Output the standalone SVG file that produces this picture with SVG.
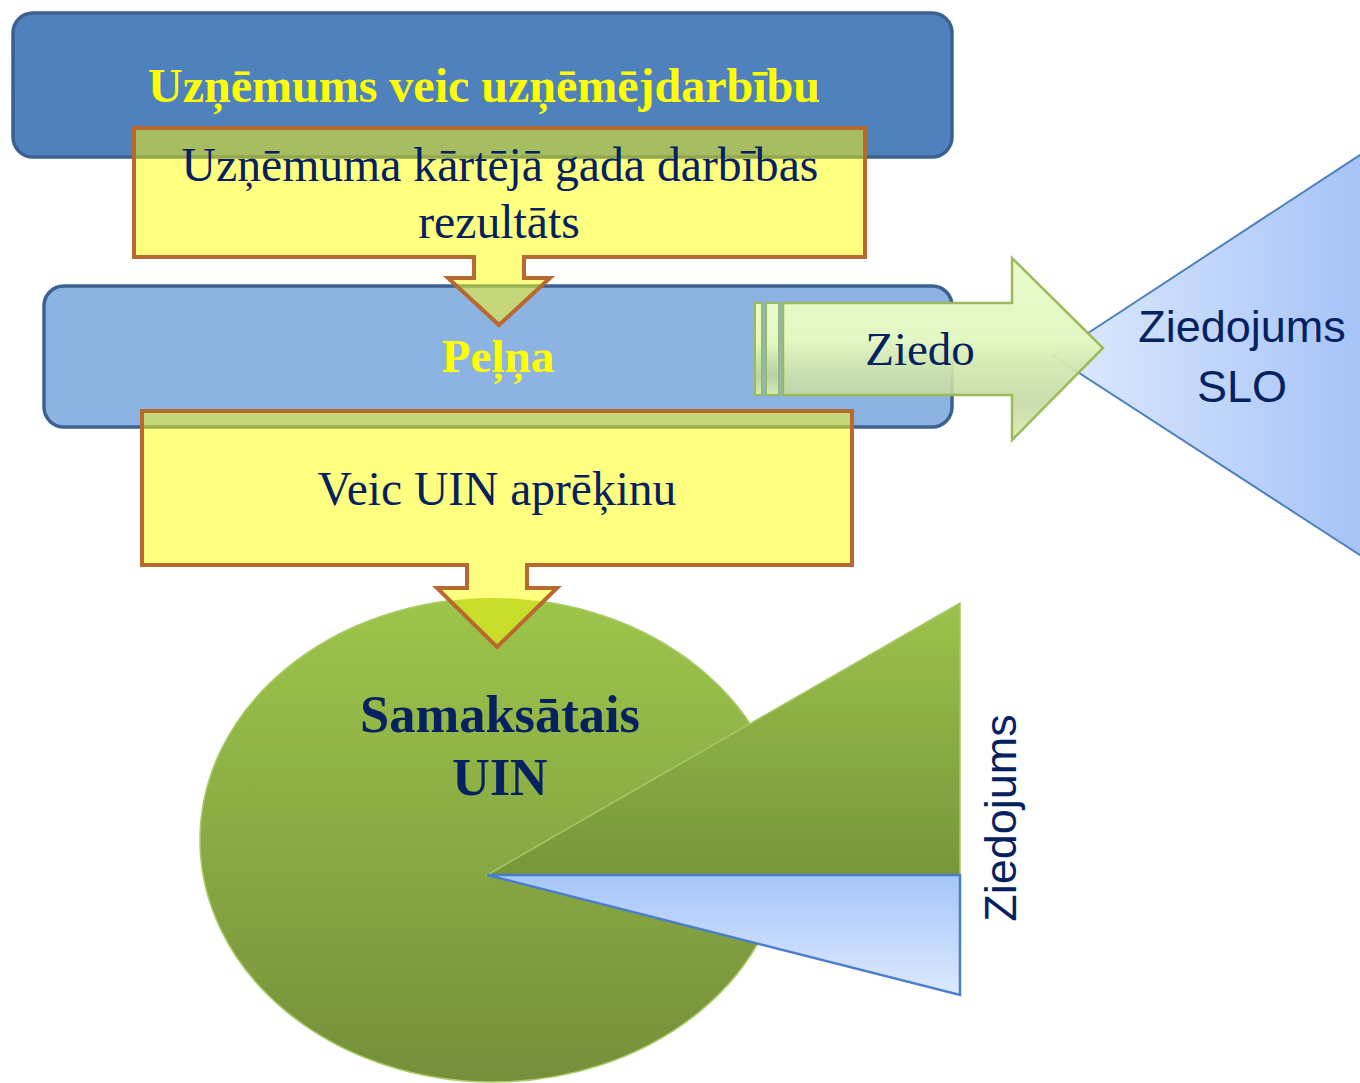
<svg xmlns="http://www.w3.org/2000/svg" width="1360" height="1083" viewBox="0 0 1360 1083">
<style>
.serif{font-family:"Liberation Serif","Times New Roman",serif;text-anchor:middle}
.sans{font-family:"Liberation Sans",Arial,sans-serif;text-anchor:middle}
.navy{fill:#06215F}
.yel{fill:#FFFF00;font-weight:bold}
.callout{fill:#FFFF80}
.cstroke{fill:none;stroke:#B8692F;stroke-width:4;stroke-linejoin:miter}
.bbox{stroke:#3C6191;stroke-width:3.5}
</style>
<defs>
<linearGradient id="gEll" x1="0" y1="0" x2="0" y2="1"><stop offset="0" stop-color="#9DC54B"/><stop offset="1" stop-color="#758F3B"/></linearGradient>
<linearGradient id="gTriG" x1="0" y1="0" x2="0" y2="1"><stop offset="0" stop-color="#9DC24C"/><stop offset="1" stop-color="#76963A"/></linearGradient>
<linearGradient id="gTriB" x1="0" y1="0" x2="0" y2="1"><stop offset="0" stop-color="#A6C5FA"/><stop offset="1" stop-color="#DDE9FD"/></linearGradient>
<linearGradient id="gBig" x1="0" y1="0" x2="1" y2="0"><stop offset="0" stop-color="#DFEAFD"/><stop offset="1" stop-color="#A5C3F8"/></linearGradient>
<linearGradient id="gArr" x1="0" y1="0" x2="0" y2="1">
<stop offset="0" stop-color="#E9FBCD"/><stop offset="0.45" stop-color="#E3F7C3"/>
<stop offset="0.6" stop-color="#D3E7AE" stop-opacity="0.93"/><stop offset="0.8" stop-color="#C2D6A0" stop-opacity="0.85"/>
<stop offset="1" stop-color="#DAF0B5" stop-opacity="0.95"/></linearGradient>
<clipPath id="cC1"><path d="M134,128 H865 V257 H524 V278 H550 L499,325 L448,278 H474 V257 H134 Z"/></clipPath>
<clipPath id="cC2"><path d="M142,411 H852 V565 H527 V588 H557 L497,647 L437,588 H467 V565 H142 Z"/></clipPath>
</defs>

<g id="node-top">
<rect x="13" y="13" width="939" height="144" rx="20" fill="#4F81BD" class="bbox"/>
<text class="serif yel" x="484" y="102" font-size="48">Uzņēmums veic uzņēmējdarbību</text>
</g>

<g id="node-pelna">
<rect x="44" y="286" width="908" height="141" rx="20" fill="#8DB3E2" class="bbox"/>
</g>

<g id="node-ellipse">
<ellipse cx="493" cy="840" rx="293" ry="242" fill="url(#gEll)" stroke="#A9CB66" stroke-width="1.5"/>
</g>

<g id="node-wedges">
<polygon points="487,875 960,603 960,875" fill="url(#gTriG)" stroke="#A6C865" stroke-width="1.5"/>
<polygon points="487,875 960,875 960,995" fill="url(#gTriB)" stroke="#4A7EC8" stroke-width="2.5" stroke-linejoin="miter"/>
<text class="sans navy" font-size="45" transform="translate(1016,818) rotate(-90)">Ziedojums</text>
</g>

<g id="node-callout1">
<path d="M134,128 H865 V257 H524 V278 H550 L499,325 L448,278 H474 V257 H134 Z" class="callout"/>
<g clip-path="url(#cC1)">
<rect x="13" y="13" width="939" height="144" rx="20" fill="#A7BD62"/>
<rect x="13" y="13" width="939" height="144" rx="20" fill="none" stroke="#93A84D" stroke-width="3.5"/>
<rect x="44" y="286" width="908" height="141" rx="20" fill="#C5D77A"/>
<rect x="44" y="286" width="908" height="141" rx="20" fill="none" stroke="#9DB152" stroke-width="3.5"/>
</g>
<path d="M134,128 H865 V257 H524 V278 H550 L499,325 L448,278 H474 V257 H134 Z" class="cstroke"/>
<text class="serif navy" x="500" y="181" font-size="47.7">Uzņēmuma kārtējā gada darbības</text>
<text class="serif navy" x="499" y="238" font-size="47.7">rezultāts</text>
</g>

<g id="node-pelna-label">
<text class="serif yel" x="498" y="372" font-size="47">Peļņa</text>
</g>

<g id="node-callout2">
<path d="M142,411 H852 V565 H527 V588 H557 L497,647 L437,588 H467 V565 H142 Z" class="callout"/>
<g clip-path="url(#cC2)">
<rect x="44" y="286" width="908" height="141" rx="20" fill="#C5D77A"/>
<rect x="44" y="286" width="908" height="141" rx="20" fill="none" stroke="#9AAE50" stroke-width="3.5"/>
<ellipse cx="493" cy="840" rx="293" ry="242" fill="#C9DD2B"/>
</g>
<path d="M142,411 H852 V565 H527 V588 H557 L497,647 L437,588 H467 V565 H142 Z" class="cstroke"/>
<text class="serif navy" x="497" y="505" font-size="47.5">Veic UIN aprēķinu</text>
</g>

<g id="node-uin">
<text class="serif navy" x="500" y="732" font-size="52.5" font-weight="bold">Samaksātais</text>
<text class="serif navy" x="500" y="795" font-size="52" font-weight="bold">UIN</text>
</g>

<g id="node-slo">
<polygon points="1053,356 1366,151 1366,559" fill="url(#gBig)" stroke="#4F81BD" stroke-width="2"/>
<text class="sans navy" x="1242" y="342" font-size="45">Ziedojums</text>
<text class="sans navy" x="1242" y="402" font-size="45">SLO</text>
</g>

<g id="connectors">
<rect x="755" y="303" width="7" height="92" fill="url(#gArr)" stroke="#9BBB59" stroke-width="2"/>
<rect x="766" y="303" width="13" height="92" fill="url(#gArr)" stroke="#9BBB59" stroke-width="2"/>
<path d="M783,303 H1012 V258 L1103,348 L1012,440 V395 H783 Z" fill="url(#gArr)" stroke="#9BBB59" stroke-width="2.5" stroke-linejoin="miter"/>
<text class="serif navy" x="920" y="365" font-size="47">Ziedo</text>
</g>
</svg>
